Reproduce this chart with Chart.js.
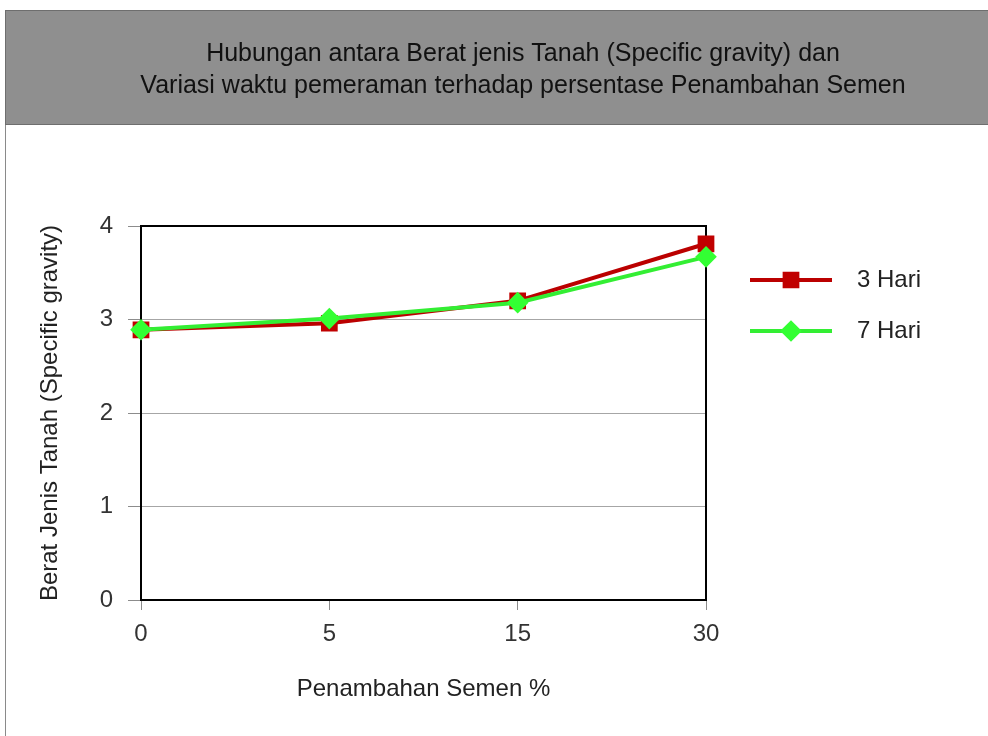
<!DOCTYPE html>
<html>
<head>
<meta charset="utf-8">
<script src="https://cdn.jsdelivr.net/npm/chart.js@4/dist/chart.umd.min.js"></script>
<style>
  html, body { margin: 0; padding: 0; background: #ffffff; }
  #wrap { width: 988px; height: 736px; }
</style>
</head>
<body>
<div id="wrap"><canvas id="c" width="988" height="736"></canvas></div>
<script>
// Cement addition (%) on the x axis
const kategori = ['0', '5', '15', '30'];
// Specific gravity after each curing time
const hari3 = [2.89, 2.96, 3.20, 3.81];
const hari7 = [2.89, 3.01, 3.18, 3.67];
const judul = [
  'Hubungan antara Berat jenis Tanah (Specific gravity) dan',
  'Variasi waktu pemeraman terhadap persentase Penambahan Semen'
];
const namaSeri = ['3 Hari', '7 Hari'];

const FONT = "'Liberation Sans', Arial, Helvetica, sans-serif";

// Grey header band with the two-line title, plus the outer frame
const headerPlugin = {
  id: 'header',
  beforeDraw(chart) {
    const ctx = chart.ctx;
    ctx.save();
    ctx.fillStyle = '#ffffff';
    ctx.fillRect(0, 0, chart.width, chart.height);
    ctx.strokeStyle = '#8a8a8a';
    ctx.lineWidth = 1;
    ctx.beginPath();
    ctx.moveTo(5.5, 10);
    ctx.lineTo(5.5, chart.height);
    ctx.stroke();
    ctx.fillStyle = '#8f8f8f';
    ctx.fillRect(5.5, 10.5, 1100, 114);
    ctx.strokeStyle = '#6e6e6e';
    ctx.strokeRect(5.5, 10.5, 1100, 114);
    ctx.fillStyle = '#111111';
    ctx.font = '25px ' + FONT;
    ctx.textAlign = 'center';
    ctx.textBaseline = 'middle';
    ctx.fillText(judul[0], 523, 54);
    ctx.fillText(judul[1], 523, 86);
    ctx.restore();
  },
  beforeDatasetsDraw(chart) {
    // black box around the plot area
    const a = chart.chartArea;
    const ctx = chart.ctx;
    ctx.save();
    ctx.strokeStyle = '#000000';
    ctx.lineWidth = 2;
    ctx.strokeRect(a.left, a.top, a.right - a.left, a.bottom - a.top);
    ctx.restore();
  }
};

// Legend at the right: line with marker, then the series name
const legendPlugin = {
  id: 'sideLegend',
  afterDraw(chart) {
    const ctx = chart.ctx;
    const rows = [280, 331];
    chart.data.datasets.forEach((ds, i) => {
      const y = rows[i];
      ctx.save();
      ctx.strokeStyle = ds.borderColor;
      ctx.lineWidth = ds.borderWidth;
      ctx.beginPath();
      ctx.moveTo(750, y);
      ctx.lineTo(832, y);
      ctx.stroke();
      ctx.fillStyle = ds.pointBackgroundColor;
      ctx.strokeStyle = ds.pointBorderColor;
      Chart.helpers.drawPoint(ctx, {
        pointStyle: ds.pointStyle,
        radius: ds.pointRadius,
        rotation: 0,
        borderWidth: 1
      }, 791, y);
      ctx.fillStyle = '#222222';
      ctx.font = '24px ' + FONT;
      ctx.textAlign = 'left';
      ctx.textBaseline = 'middle';
      ctx.fillText(ds.label, 857, y);
      ctx.restore();
    });
  }
};

new Chart(document.getElementById('c'), {
  type: 'line',
  data: {
    labels: kategori,
    datasets: [
      {
        label: namaSeri[0],
        data: hari3,
        borderColor: '#bb0000',
        backgroundColor: '#bb0000',
        pointBackgroundColor: '#c00000',
        pointBorderColor: '#c00000',
        pointStyle: 'rect',
        pointRadius: 9,
        pointHoverRadius: 9,
        borderWidth: 4,
        tension: 0,
        order: 2
      },
      {
        label: namaSeri[1],
        data: hari7,
        borderColor: '#33ee33',
        backgroundColor: '#33ee33',
        pointBackgroundColor: '#33ff33',
        pointBorderColor: '#33ff33',
        pointStyle: 'rectRot',
        pointRadius: 8,
        pointHoverRadius: 8,
        borderWidth: 4,
        tension: 0,
        order: 1
      }
    ]
  },
  options: {
    responsive: false,
    animation: false,
    layout: { padding: { left: 10, right: 282, top: 226, bottom: 0 } },
    plugins: {
      legend: { display: false },
      title: { display: false },
      tooltip: { enabled: false }
    },
    scales: {
      x: {
        type: 'category',
        offset: false,
        afterFit(s) { s.height = 136; },
        grid: {
          drawOnChartArea: false,
          drawTicks: true,
          tickLength: 10,
          color: '#8c8c8c',
          tickColor: '#8c8c8c'
        },
        border: { display: true, color: '#000000', width: 2 },
        ticks: {
          color: '#333333',
          padding: 10,
          font: { family: FONT, size: 24 },
          maxRotation: 0
        },
        title: {
          display: true,
          text: 'Penambahan Semen %',
          color: '#222222',
          font: { family: FONT, size: 24 },
          padding: { top: 0, bottom: 32 }
        }
      },
      y: {
        min: 0,
        max: 4,
        afterFit(s) { s.width = 131; },
        grid: {
          drawTicks: true,
          tickLength: 13,
          color: '#a6a6a6',
          tickColor: '#8c8c8c',
          lineWidth: 1
        },
        border: { display: true, color: '#000000', width: 2 },
        ticks: {
          stepSize: 1,
          color: '#333333',
          padding: 15,
          font: { family: FONT, size: 24 }
        },
        title: {
          display: true,
          text: 'Berat Jenis Tanah (Specific gravity)',
          color: '#222222',
          font: { family: FONT, size: 24 },
          padding: { top: 26, bottom: 0 }
        }
      }
    }
  },
  plugins: [headerPlugin, legendPlugin]
});
</script>
</body>
</html>
